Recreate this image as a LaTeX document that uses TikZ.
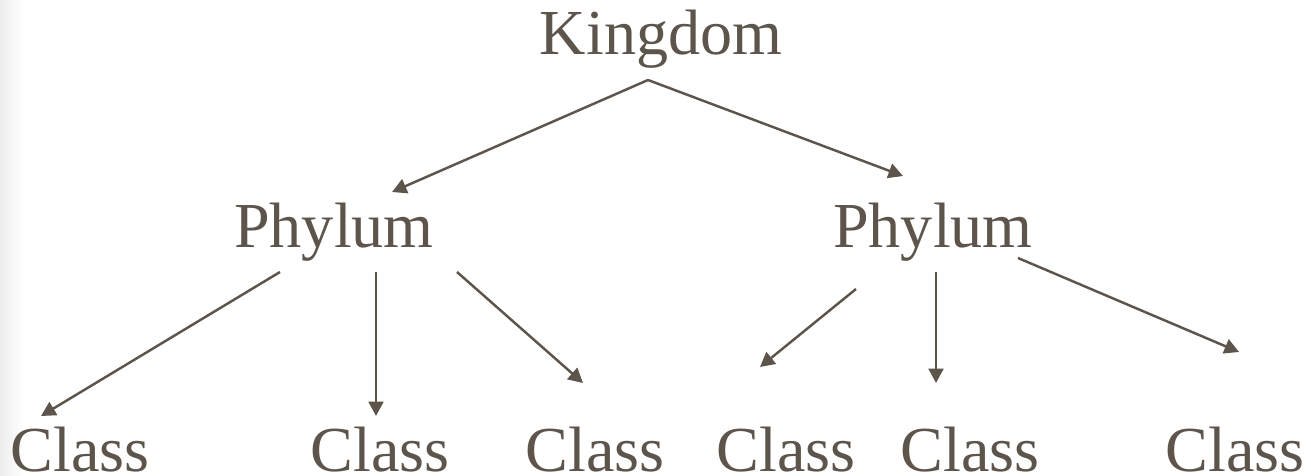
\documentclass[tikz,border=0pt]{standalone}
\usepackage{fontspec}
\setmainfont{Liberation Serif}
\usetikzlibrary{arrows.meta}
\definecolor{taxbrown}{RGB}{93,84,75}

\begin{document}
\begin{tikzpicture}[x=0.02cm, y=-0.02cm,
		every node/.style = {text=taxbrown, anchor=base, inner sep=0pt,
			font=\fontsize{36.5}{40}\selectfont},
		link/.style = {draw=taxbrown, line width=1.4pt,
			-{Triangle[length=0.29cm, width=0.3cm]}}]
		\useasboundingbox (0,0) rectangle (1311,476);
		% faint band on the left edge
		\shade[left color=black!7, right color=white] (0,0) rectangle (24,476);
		% ranks
		\node (kingdom) at (661,55) {Kingdom};
		\node (phyl) at (334,247) {Phylum};
		\node (phyr) at (933,247) {Phylum};
		\foreach \name/\x in {cla/80, clb/380, clc/595, cld/786, cle/970, clf/1235}
			\node (\name) at (\x,471) {Class};
		% ends of the arrows
		\coordinate (k-out) at (648,80);
		\coordinate (phyl-in) at (392,192);
		\coordinate (phyr-in) at (903,176);
		\coordinate (phyl-a) at (280,272);
		\coordinate (phyl-b) at (376,272);
		\coordinate (phyl-c) at (457,272);
		\coordinate (phyr-a) at (856,289);
		\coordinate (phyr-b) at (936,272);
		\coordinate (phyr-c) at (1018,258);
		\coordinate (cla-in) at (41,416);
		\coordinate (clb-in) at (376,416);
		\coordinate (clc-in) at (583,383);
		\coordinate (cld-in) at (760,367);
		\coordinate (cle-in) at (936,383);
		\coordinate (clf-in) at (1239,352);
		% arrows
		\foreach \from/\to in {k-out/phyl-in, k-out/phyr-in,
			phyl-a/cla-in, phyl-b/clb-in, phyl-c/clc-in,
			phyr-a/cld-in, phyr-b/cle-in, phyr-c/clf-in}
			\draw[link] (\from) -- (\to);
\end{tikzpicture}
\end{document}
